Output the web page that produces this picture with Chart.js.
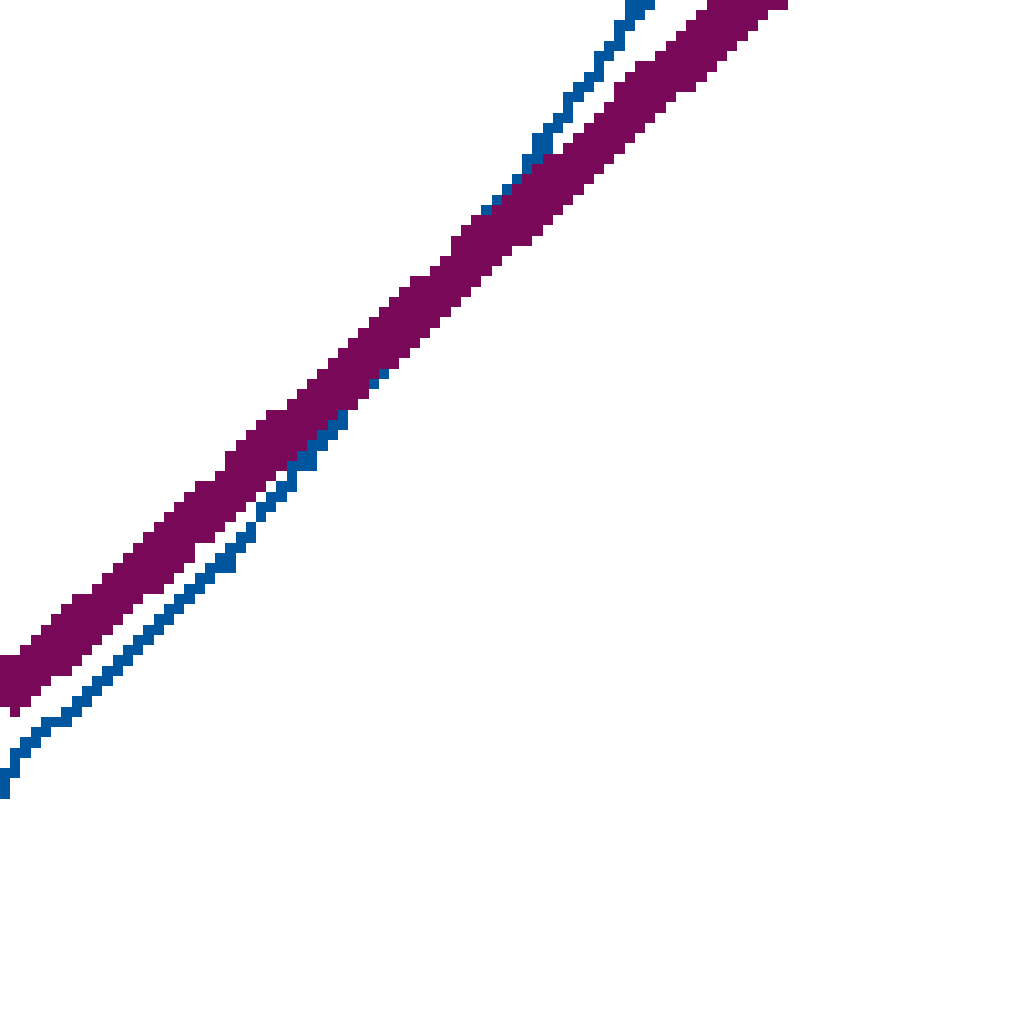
<!DOCTYPE html>
<html>
<head>
<meta charset="utf-8">
<script src="https://cdn.jsdelivr.net/npm/chart.js@4.4.1/dist/chart.umd.min.js"></script>
<style>
  html, body { margin: 0; padding: 0; background: #ffffff; overflow: hidden; width: 1024px; height: 1024px; }
  #c { position: absolute !important; left: 0 !important; top: 0 !important; width: 1024px !important; height: 1024px !important; image-rendering: pixelated; }
</style>
</head>
<body>
<canvas id="c" width="100" height="100" style="width:1024px;height:1024px;"></canvas>
<script>
// Purple series (thick line)
const purpleX = [0, 1.95, 4.59, 6.54, 8.40, 9.86, 11.82, 14.75, 17.58, 21.0, 24.41, 28.32, 30.66, 33.59, 35.45, 37.89, 41.80, 44.24, 46.68, 49.12, 51.46, 55.37, 59.77, 63.09, 66.99, 70.80, 73.24, 76.17];
const purpleY = [31.4, 33.9, 35.8, 37.7, 39.6, 40.6, 42.6, 44.5, 47.9, 50.7, 54.3, 58.2, 60.2, 62.6, 65.0, 66.8, 70.7, 72.7, 75.6, 77.5, 79.5, 83.2, 87.1, 91.0, 93.9, 97.9, 99.7, 102.0];
// Blue series (thin line)
const blueX = [0, 0.68, 2.64, 4.88, 6.54, 8.01, 11.72, 15.63, 19.53, 21.0, 21.97, 25.59, 27.34, 28.81, 30.27, 32.62, 35.55, 38.57, 48.14, 50.59, 52.93, 54.39, 56.84, 58.79, 60.74, 62.01, 62.99];
const blueY = [22.9, 24.6, 27.1, 29.0, 30.5, 31.0, 34.9, 38.8, 42.7, 44.6, 45.8, 49.6, 51.7, 54.1, 55.3, 58.5, 61.9, 65.1, 79.5, 82.1, 85.8, 87.8, 91.4, 93.9, 96.9, 99.3, 100.8];

const purpleColor = [122, 8, 89];
const blueColor = [0, 85, 159];

const toPoints = (xs, ys) => xs.map((x, i) => ({ x: x, y: ys[i] }));

// Snap antialiased pixels to solid colours (crisp pixel look of the reference)
const crispPlugin = {
  id: 'crisp',
  afterDraw(chart) {
    const ctx = chart.ctx;
    const w = chart.canvas.width, h = chart.canvas.height;
    const img = ctx.getImageData(0, 0, w, h);
    const d = img.data;
    for (let i = 0; i < d.length; i += 4) {
      if (d[i + 3] < 110) { d[i + 3] = 0; continue; }
      const dp = Math.abs(d[i] - purpleColor[0]) + Math.abs(d[i + 1] - purpleColor[1]) + Math.abs(d[i + 2] - purpleColor[2]);
      const db = Math.abs(d[i] - blueColor[0]) + Math.abs(d[i + 1] - blueColor[1]) + Math.abs(d[i + 2] - blueColor[2]);
      const c = dp <= db ? purpleColor : blueColor;
      d[i] = c[0]; d[i + 1] = c[1]; d[i + 2] = c[2]; d[i + 3] = 255;
    }
    ctx.putImageData(img, 0, 0);
  }
};

new Chart(document.getElementById('c'), {
  type: 'line',
  data: {
    datasets: [
      {
        label: 'Purple',
        data: toPoints(purpleX, purpleY),
        borderColor: 'rgb(' + purpleColor.join(',') + ')',
        borderWidth: 4.5,
        pointRadius: 0,
        tension: 0,
        fill: false,
        clip: false,
        order: 0
      },
      {
        label: 'Blue',
        data: toPoints(blueX, blueY),
        borderColor: 'rgb(' + blueColor.join(',') + ')',
        borderWidth: 1.35,
        pointRadius: 0,
        tension: 0,
        fill: false,
        clip: false,
        order: 1
      }
    ]
  },
  options: {
    responsive: false,
    devicePixelRatio: 1,
    animation: false,
    events: [],
    layout: { padding: 0 },
    plugins: { legend: { display: false }, tooltip: { enabled: false }, title: { display: false } },
    scales: {
      x: { type: 'linear', min: 0, max: 100, display: false },
      y: { type: 'linear', min: 0, max: 100, display: false }
    }
  },
  plugins: [crispPlugin]
});
</script>
</body>
</html>
